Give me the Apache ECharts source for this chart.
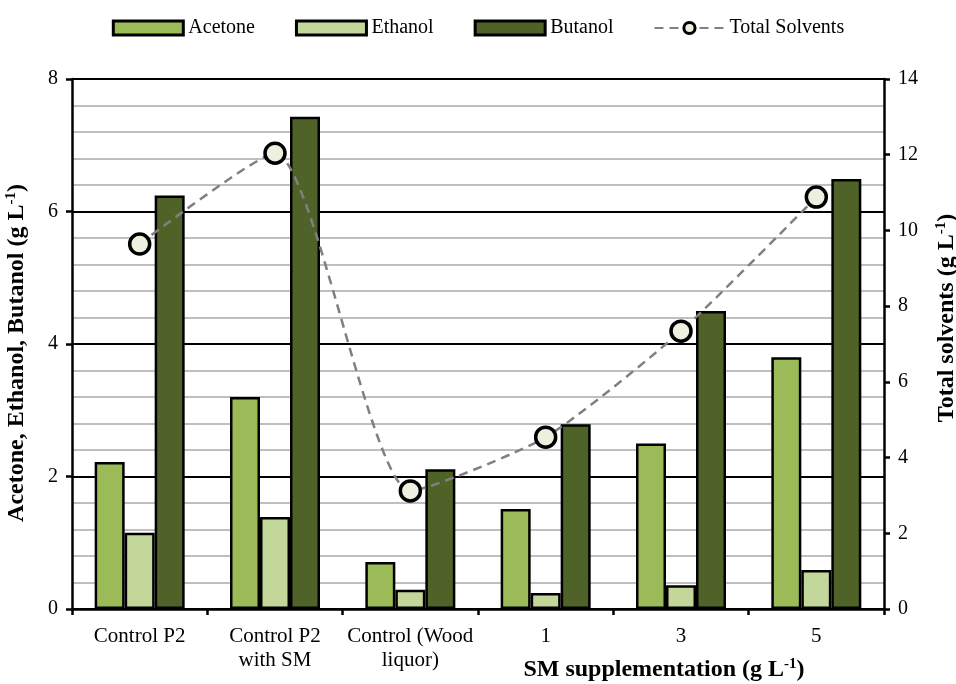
<!DOCTYPE html>
<html>
<head>
<meta charset="utf-8">
<script src="https://cdn.jsdelivr.net/npm/echarts@6/dist/echarts.min.js"></script>
<style>
  html, body { margin: 0; padding: 0; background: #fff; }
  #chart { width: 956px; height: 684px; }
</style>
</head>
<body>
<div id="chart"></div>
<script>
const categories = ["Control P2", "Control P2\nwith SM", "Control (Wood\nliquor)", "1", "3", "5"];
const acetone = [2.22, 3.2, 0.71, 1.51, 2.5, 3.8];
const ethanol = [1.15, 1.39, 0.29, 0.24, 0.36, 0.59];
const butanol = [6.24, 7.43, 2.11, 2.79, 4.5, 6.49];
const totalSolvents = [9.64, 12.04, 3.12, 4.54, 7.34, 10.88];

const font = "Liberation Serif";
const barBorder = { borderColor: "#000", borderWidth: 2.5 };

// rich text styles for the "g L-1" names
const nameRich = {
  b: { fontFamily: font, fontWeight: "bold", fontSize: 24, color: "#000" },
  sup: { fontFamily: font, fontWeight: "bold", fontSize: 15, color: "#000", padding: [0, 0, 11, 0] },
};

const chart = echarts.init(document.getElementById("chart"));

const option = {
  animation: false,
  textStyle: { fontFamily: font },
  legend: {
    top: 13,
    left: "center",
    itemWidth: 70,
    itemHeight: 14,
    itemGap: 40,
    itemStyle: { borderColor: "#000", borderWidth: 3 },
    textStyle: { fontFamily: font, fontSize: 20, color: "#000" },
    data: [
      { name: "Acetone", icon: "rect" },
      { name: "Ethanol", icon: "rect" },
      { name: "Butanol", icon: "rect" },
      { name: "Total Solvents" },
    ],
  },
  grid: { left: 72, right: 72, top: 79, bottom: 75, outerBoundsMode: "none" },
  xAxis: {
    type: "category",
    data: categories,
    axisLine: { lineStyle: { color: "#000", width: 2.5 } },
    axisTick: { show: true, length: 6, lineStyle: { color: "#000", width: 2.5 } },
    axisLabel: { interval: 0, fontFamily: font, fontSize: 21, color: "#000", lineHeight: 24, margin: 15 },
    name: "{b|SM supplementation (g L}{sup|-1}{b|)}",
    nameLocation: "middle",
    nameGap: 48,
    nameMoveOverlap: false,
    nameTextStyle: { rich: nameRich, padding: [0, 0, 0, 372] },
  },
  yAxis: [
    {
      type: "value",
      min: 0,
      max: 8,
      interval: 2,
      axisLine: { show: true, lineStyle: { color: "#000", width: 2.5 } },
      axisTick: { show: true, length: 6, lineStyle: { color: "#000", width: 2.5 } },
      axisLabel: { fontFamily: font, fontSize: 20, color: "#000", margin: 14 },
      splitLine: { show: true, lineStyle: { color: "#000", width: 2 } },
      minorTick: { show: false, splitNumber: 5 },
      minorSplitLine: { show: true, lineStyle: { color: "#bfbfbf", width: 2 } },
      name: "{b|Acetone, Ethanol, Butanol (g L}{sup|-1}{b|)}",
      nameLocation: "middle",
      nameRotate: 90,
      nameGap: 42,
      nameMoveOverlap: false,
      nameTextStyle: { rich: nameRich, padding: [0, 18, 0, 0] },
    },
    {
      type: "value",
      min: 0,
      max: 14,
      interval: 2,
      position: "right",
      axisLine: { show: true, lineStyle: { color: "#000", width: 2.5 } },
      axisTick: { show: true, length: 6, lineStyle: { color: "#000", width: 2.5 } },
      axisLabel: { fontFamily: font, fontSize: 20, color: "#000", margin: 14 },
      splitLine: { show: false },
      name: "{b|Total solvents (g L}{sup|-1}{b|)}",
      nameLocation: "middle",
      nameRotate: 90,
      nameGap: 50,
      nameMoveOverlap: false,
      nameTextStyle: { rich: nameRich, padding: [0, 0, 0, 52] },
    },
  ],
  series: [
    {
      name: "Acetone",
      type: "bar",
      data: acetone,
      barWidth: 30,
      barGap: "0%",
      itemStyle: Object.assign({ color: "#9bbb59" }, barBorder),
    },
    {
      name: "Ethanol",
      type: "bar",
      data: ethanol,
      barWidth: 30,
      barGap: "0%",
      itemStyle: Object.assign({ color: "#c4d79b" }, barBorder),
    },
    {
      name: "Butanol",
      type: "bar",
      data: butanol,
      barWidth: 30,
      barGap: "0%",
      itemStyle: Object.assign({ color: "#4f6228" }, barBorder),
    },
    {
      name: "Total Solvents",
      type: "line",
      yAxisIndex: 1,
      data: totalSolvents,
      smooth: 0.2,
      symbol: "circle",
      symbolSize: 20,
      lineStyle: { color: "#808080", width: 2.5, type: [9, 6] },
      itemStyle: { color: "#ebf1de", borderColor: "#000", borderWidth: 3.5 },
      z: 5,
    },
  ],
};

chart.setOption(option);
</script>
</body>
</html>
